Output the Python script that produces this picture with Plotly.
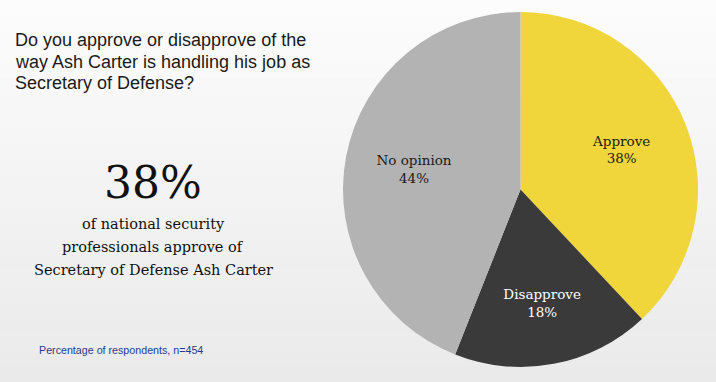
import plotly.graph_objects as go

labels = ["Approve", "Disapprove", "No opinion"]
values = [38, 18, 44]
colors = ["#f0d53b", "#3a3a3a", "#b3b3b3"]
text_colors = ["#1a1a1a", "#ffffff", "#1a1a1a"]

title_lines = ["Do you approve or disapprove of the",
               "way Ash Carter is handling his job as",
               "Secretary of Defense?"]
big_number = "38%"
sub_lines = ["of national security",
             "professionals approve of",
             "Secretary of Defense Ash Carter"]
footer = "Percentage of respondents, n=454"

W, H = 716, 382
pie_domain = dict(x=[343/W, 698/W], y=[(H-368)/H, (H-11)/H])

fig = go.Figure()
# filled slices
fig.add_trace(go.Pie(
    labels=labels,
    values=values,
    sort=False,
    direction="clockwise",
    rotation=0,
    marker=dict(colors=colors, line=dict(width=0)),
    textinfo="none",
    hoverinfo="label+percent",
    showlegend=False,
    domain=pie_domain,
))
# transparent overlay carrying the slice labels (hole pushes labels outward)
fig.add_trace(go.Pie(
    labels=labels,
    values=values,
    sort=False,
    direction="clockwise",
    rotation=0,
    hole=0.22,
    marker=dict(colors=["rgba(0,0,0,0)"] * len(values), line=dict(width=0)),
    texttemplate="%{label}<br>%{value}%",
    textposition="inside",
    insidetextorientation="horizontal",
    textfont=dict(family="DejaVu Serif", size=13.5, color=text_colors),
    hoverinfo="skip",
    showlegend=False,
    domain=pie_domain,
))

# background gradient (top near-white to light gray at bottom)
n_bands = 24
for i in range(n_bands):
    t = i / (n_bands - 1)
    g = int(round(252 - t * 18))
    fig.add_shape(type="rect", xref="paper", yref="paper",
                  x0=0, x1=1, y0=1 - (i + 1) / n_bands, y1=1 - i / n_bands,
                  fillcolor=f"rgb({g},{g},{g})", line=dict(width=0), layer="below")

title_y = [40, 62, 83]
for line, yy in zip(title_lines, title_y):
    fig.add_annotation(text=line, x=13/W, y=1-yy/H,
                       xref="paper", yref="paper", xanchor="left", yanchor="middle",
                       align="left", showarrow=False,
                       font=dict(family="Liberation Sans", size=18, color="#1a1a1a"))

fig.add_annotation(text=big_number, x=153/W, y=1-182/H,
                   xref="paper", yref="paper", xanchor="center", yanchor="middle",
                   showarrow=False,
                   font=dict(family="DejaVu Serif", size=44, color="#111111"))

sub_y = [224, 247, 270]
for line, yy in zip(sub_lines, sub_y):
    fig.add_annotation(text=line, x=153/W, y=1-yy/H,
                       xref="paper", yref="paper", xanchor="center", yanchor="middle",
                       showarrow=False,
                       font=dict(family="DejaVu Serif", size=14.5, color="#111111"))

fig.add_annotation(text=footer, x=37/W, y=1-350/H,
                   xref="paper", yref="paper", xanchor="left", yanchor="middle",
                   showarrow=False,
                   font=dict(family="Liberation Sans", size=10.7, color="#1f3c8c"))

fig.update_layout(
    width=W, height=H,
    margin=dict(l=0, r=0, t=0, b=0),
    paper_bgcolor="#f5f5f5",
    plot_bgcolor="#f5f5f5",
)

fig.write_html("out.html", config={"displayModeBar": False},
               post_script="document.body.style.margin='0';")
